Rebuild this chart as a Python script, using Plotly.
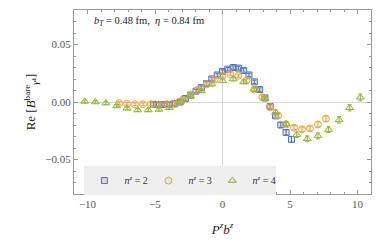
import plotly.graph_objects as go

# P^z b^z values per series
x_n2 = [-5.11,-4.71,-4.32,-3.93,-3.53,-3.14,-2.75,-2.36,-1.96,-1.57,-1.18,-0.79,-0.39,0.00,
        0.39,0.79,1.18,1.57,1.96,2.36,2.75,3.14,3.53,3.93,4.32,4.71,5.11]
y_n2 = [-0.0020,-0.0022,-0.0022,-0.0020,-0.0015,0.0000,0.0030,0.0060,0.0095,0.0125,0.0160,0.0200,0.0235,0.0265,
        0.0285,0.0300,0.0295,0.0275,0.0235,0.0175,0.0108,0.0035,-0.0040,-0.0120,-0.0200,-0.0265,-0.0325]
e_n2 = [0.0015,0.0015,0.0015,0.0015,0.0015,0.0015,0.0015,0.0015,0.0015,0.0015,0.0015,0.0015,0.0015,0.0015,
        0.0015,0.0015,0.0015,0.0015,0.0015,0.0015,0.0015,0.0015,0.0018,0.0018,0.0020,0.0022,0.0025]

x_n3 = [-7.66,-7.07,-6.48,-5.89,-5.30,-4.71,-4.12,-3.53,-2.95,-2.36,-1.77,-1.18,-0.59,0.00,
        0.59,1.18,1.77,2.36,2.95,3.53,4.12,4.71,5.30,5.89,6.48,7.07,7.66]
y_n3 = [-0.0010,-0.0015,-0.0020,-0.0020,-0.0020,-0.0022,-0.0020,-0.0015,0.0020,0.0065,0.0110,0.0155,0.0195,0.0230,
        0.0242,0.0228,0.0185,0.0108,0.0042,-0.0045,-0.0118,-0.0195,-0.0223,-0.0238,-0.0230,-0.0195,-0.0145]
e_n3 = [0.0012,0.0012,0.0012,0.0012,0.0012,0.0012,0.0012,0.0012,0.0012,0.0013,0.0013,0.0013,0.0013,0.0013,
        0.0013,0.0013,0.0013,0.0013,0.0014,0.0015,0.0016,0.0018,0.0018,0.0020,0.0020,0.0022,0.0024]

x_n4 = [-10.21,-9.42,-8.64,-7.85,-7.07,-6.28,-5.50,-4.71,-3.93,-3.14,-2.36,-1.57,-0.79,0.00,
        0.79,1.57,2.36,3.14,3.93,4.71,5.50,6.28,7.07,7.85,8.64,9.42,10.21]
y_n4 = [0.0005,0.0000,-0.0010,-0.0035,-0.0055,-0.0070,-0.0070,-0.0065,-0.0050,0.0000,0.0050,0.0096,0.0155,0.0185,
        0.0200,0.0175,0.0110,0.0030,-0.0090,-0.0190,-0.0285,-0.0320,-0.0295,-0.0240,-0.0155,-0.0050,0.0040]
e_n4 = [0.0012,0.0012,0.0012,0.0012,0.0012,0.0012,0.0012,0.0012,0.0012,0.0013,0.0013,0.0014,0.0015,0.0016,
        0.0017,0.0018,0.0018,0.0018,0.0020,0.0022,0.0024,0.0025,0.0026,0.0026,0.0028,0.0028,0.0030]

names = ["<i>n<sup>z</sup></i> = 2", "<i>n<sup>z</sup></i> = 3", "<i>n<sup>z</sup></i> = 4"]
colors = ["#4f74b8", "#eba544", "#95b83a"]
fills = ["rgba(79,116,184,0.18)", "rgba(235,165,68,0.15)", "rgba(149,184,58,0.18)"]
symbols = ["square", "circle", "triangle-up"]
sizes = [6, 7, 7]

FONT = "Liberation Serif"
fig = go.Figure()
for xs, ys, es, nm, c, f, s, sz in zip([x_n2, x_n3, x_n4], [y_n2, y_n3, y_n4], [e_n2, e_n3, e_n4],
                                     names, colors, fills, symbols, sizes):
    fig.add_trace(go.Scatter(
        x=xs, y=ys, mode="markers", name=nm,
        marker=dict(symbol=s, size=sz, color=f, line=dict(color=c, width=1)),
        error_y=dict(type="data", array=es, color=c, thickness=1, width=2),
    ))

fig.add_annotation(
    x=0.062, y=0.94, xref="paper", yref="paper", xanchor="left", yanchor="middle",
    text="<i>b<sub>T</sub></i> = 0.48 fm,  <i>η</i> = 0.84 fm", showarrow=False,
    font=dict(family=FONT, size=10.5, color="#222"),
)

axis_common = dict(
    showline=True, linecolor="#9a9a9a", linewidth=1, mirror="ticks",
    ticks="inside", ticklen=4, tickcolor="#9a9a9a", tickwidth=1,
    showgrid=False, zeroline=True, zerolinecolor="#dadada", zerolinewidth=1,
    tickfont=dict(family=FONT, size=11, color="#555"),
    automargin=False,
)
fig.update_xaxes(range=[-11, 11], tickvals=[-10, -5, 0, 5, 10],
                 minor=dict(dtick=1, ticks="inside", ticklen=2, tickcolor="#9a9a9a"),
                 title=dict(text="<i>P<sup>z</sup>b<sup>z</sup></i>", font=dict(family=FONT, size=13, color="#222"),
                            standoff=15),
                 **axis_common)
fig.update_yaxes(range=[-0.08, 0.08], tickvals=[-0.05, 0, 0.05], tickformat=".2f",
                 minor=dict(dtick=0.01, ticks="inside", ticklen=2, tickcolor="#9a9a9a"),
                 title=dict(text="Re [<i>B</i><sup>bare</sup><sub><i>γ</i>⁴</sub>]",
                            font=dict(family=FONT, size=13, color="#222"), standoff=6),
                 **axis_common)

# page body has an 8px default margin, so the figure is sized/offset to compensate
fig.update_layout(
    width=374, height=235,
    margin=dict(l=66, r=11, t=2, b=49),
    paper_bgcolor="white", plot_bgcolor="white",
    showlegend=True,
    legend=dict(orientation="h", x=0.035, y=0.152, xanchor="left", yanchor="top",
                bgcolor="#efefef", font=dict(family=FONT, size=10, color="#333"),
                entrywidth=19, entrywidthmode="pixels", itemwidth=30,
                tracegroupgap=0),
)

fig.write_html("out.html")
